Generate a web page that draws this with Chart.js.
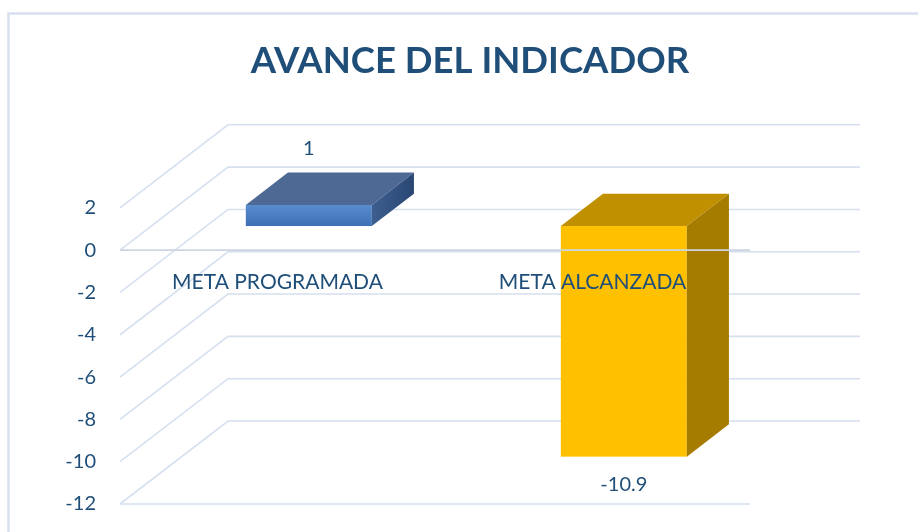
<!DOCTYPE html>
<html>
<head>
<meta charset="utf-8">
<script src="https://cdn.jsdelivr.net/npm/chart.js@4/dist/chart.umd.min.js"></script>
<style>
    body { margin: 0; background: #fff; }
    #caixa { width: 918px; height: 532px; }
</style>
</head>
<body>
<div id="caixa"><canvas id="grafico"></canvas></div>
<script>
// dados do grafico
const categorias = ['META PROGRAMADA', 'META ALCANZADA']
const valores = [1, -10.9]
const rotulosValores = ['1', '-10.9']
const eixoMin = -12
const eixoMax = 2
const eixoPasso = 2

const azulTexto = '#1F4E79'
const corGrade = '#d6e0ef'
const fonte = 'Lato'

// cores das faces (frente, topo, lado)
const coresFrente = [['#5a8dcf', '#3c6fb4'], ['#FFC000', '#FFC000']]
const coresTopo = ['#4e6a94', '#C09000']
const coresLado = [['#3d5e8f', '#2a4773'], ['#A67C00', '#A67C00']]

// profundidade do 3D
const paredeDx = 108
const paredeDy = -83
const barraIni = 0.29
const barraFim = 0.68

const cena3d = {
    id: 'cena3d',
    beforeDatasetsDraw(chart) {
        const ctx = chart.ctx
        const a = chart.chartArea
        const y = chart.scales.y
        ctx.save()

        // moldura
        ctx.strokeStyle = corGrade
        ctx.lineWidth = 2.5
        ctx.strokeRect(8.5, 13.5, 1000, 1000)

        // grade da parede lateral e do fundo
        ctx.lineWidth = 1.6
        y.ticks.forEach(t => {
            const py = y.getPixelForValue(t.value)
            ctx.beginPath()
            ctx.moveTo(a.left, py)
            ctx.lineTo(a.left + paredeDx, py + paredeDy)
            ctx.lineTo(a.right + paredeDx + 2, py + paredeDy)
            ctx.stroke()
        })

        // borda da base
        ctx.beginPath()
        ctx.moveTo(a.left, a.bottom)
        ctx.lineTo(a.right, a.bottom)
        ctx.stroke()
        ctx.restore()
    },
    afterDatasetsDraw(chart) {
        const ctx = chart.ctx
        const a = chart.chartArea
        const y = chart.scales.y
        const x = chart.scales.x
        const meta = chart.getDatasetMeta(0)
        const sx = paredeDx * barraIni
        const sy = paredeDy * barraIni
        const ddx = paredeDx * (barraFim - barraIni)
        const ddy = paredeDy * (barraFim - barraIni)
        ctx.save()

        meta.data.forEach((barra, i) => {
            const p = barra.getProps(['x', 'y', 'base', 'width'], true)
            const topo = Math.min(p.y, p.base) + sy
            const fundo = Math.max(p.y, p.base) + sy
            const x0 = p.x - p.width / 2 + sx
            const x1 = x0 + p.width

            // frente
            let g = ctx.createLinearGradient(0, topo, 0, fundo)
            g.addColorStop(0, coresFrente[i][0])
            g.addColorStop(1, coresFrente[i][1])
            ctx.fillStyle = g
            ctx.fillRect(x0, topo, p.width, fundo - topo)

            // topo
            ctx.fillStyle = coresTopo[i]
            ctx.beginPath()
            ctx.moveTo(x0, topo)
            ctx.lineTo(x0 + ddx, topo + ddy)
            ctx.lineTo(x1 + ddx, topo + ddy)
            ctx.lineTo(x1, topo)
            ctx.closePath()
            ctx.fill()

            // lado
            g = ctx.createLinearGradient(x1, 0, x1 + ddx, 0)
            g.addColorStop(0, coresLado[i][0])
            g.addColorStop(1, coresLado[i][1])
            ctx.fillStyle = g
            ctx.beginPath()
            ctx.moveTo(x1, topo)
            ctx.lineTo(x1 + ddx, topo + ddy)
            ctx.lineTo(x1 + ddx, fundo + ddy)
            ctx.lineTo(x1, fundo)
            ctx.closePath()
            ctx.fill()

            // rotulo do valor
            ctx.fillStyle = azulTexto
            ctx.font = '20px ' + fonte
            ctx.textAlign = 'center'
            ctx.textBaseline = 'middle'
            if (valores[i] >= 0) {
                ctx.fillText(rotulosValores[i], p.x + sx, topo + ddy - 24)
            } else {
                ctx.fillText(rotulosValores[i], p.x + sx, fundo + 28)
            }
        })

        // linha do zero na frente
        const zero = y.getPixelForValue(0)
        ctx.strokeStyle = '#cdd6e2'
        ctx.lineWidth = 1.6
        ctx.beginPath()
        ctx.moveTo(a.left, zero)
        ctx.lineTo(a.right, zero)
        ctx.stroke()

        // nomes das categorias
        ctx.fillStyle = azulTexto
        ctx.font = '21px ' + fonte
        ctx.textAlign = 'center'
        ctx.textBaseline = 'middle'
        categorias.forEach((c, i) => {
            ctx.fillText(c, x.getPixelForValue(i), zero + 32)
        })
        ctx.restore()
    }
}

const ctx = document.getElementById('grafico').getContext('2d')

const grafico = new Chart(ctx, {
    type: 'bar',
    data: {
        labels: categorias,
        datasets: [{
            data: valores,
            backgroundColor: 'rgba(0,0,0,0)',
            barPercentage: 0.4,
            categoryPercentage: 1
        }]
    },
    options: {
        responsive: true,
        maintainAspectRatio: false,
        animation: false,
        events: [],
        layout: { padding: { left: 22, right: 0, top: 0, bottom: 23 } },
        plugins: {
            legend: { display: false },
            tooltip: { enabled: false },
            title: {
                display: true,
                text: 'AVANCE DEL INDICADOR',
                color: azulTexto,
                font: { family: fonte, size: 36.5, weight: 'bold' },
                padding: { top: 39, bottom: 125 }
            }
        },
        scales: {
            x: { display: false },
            y: {
                min: eixoMin,
                max: eixoMax,
                ticks: {
                    stepSize: eixoPasso,
                    color: azulTexto,
                    padding: 16,
                    font: { family: fonte, size: 20 }
                },
                grid: { display: false },
                border: { display: false },
                afterFit(s) { s.width = 98 }
            },
            direita: {
                type: 'linear',
                position: 'right',
                ticks: { display: false },
                grid: { display: false },
                border: { display: false },
                afterFit(s) { s.width = 168 }
            }
        }
    },
    plugins: [cena3d]
})
</script>
</body>
</html>
